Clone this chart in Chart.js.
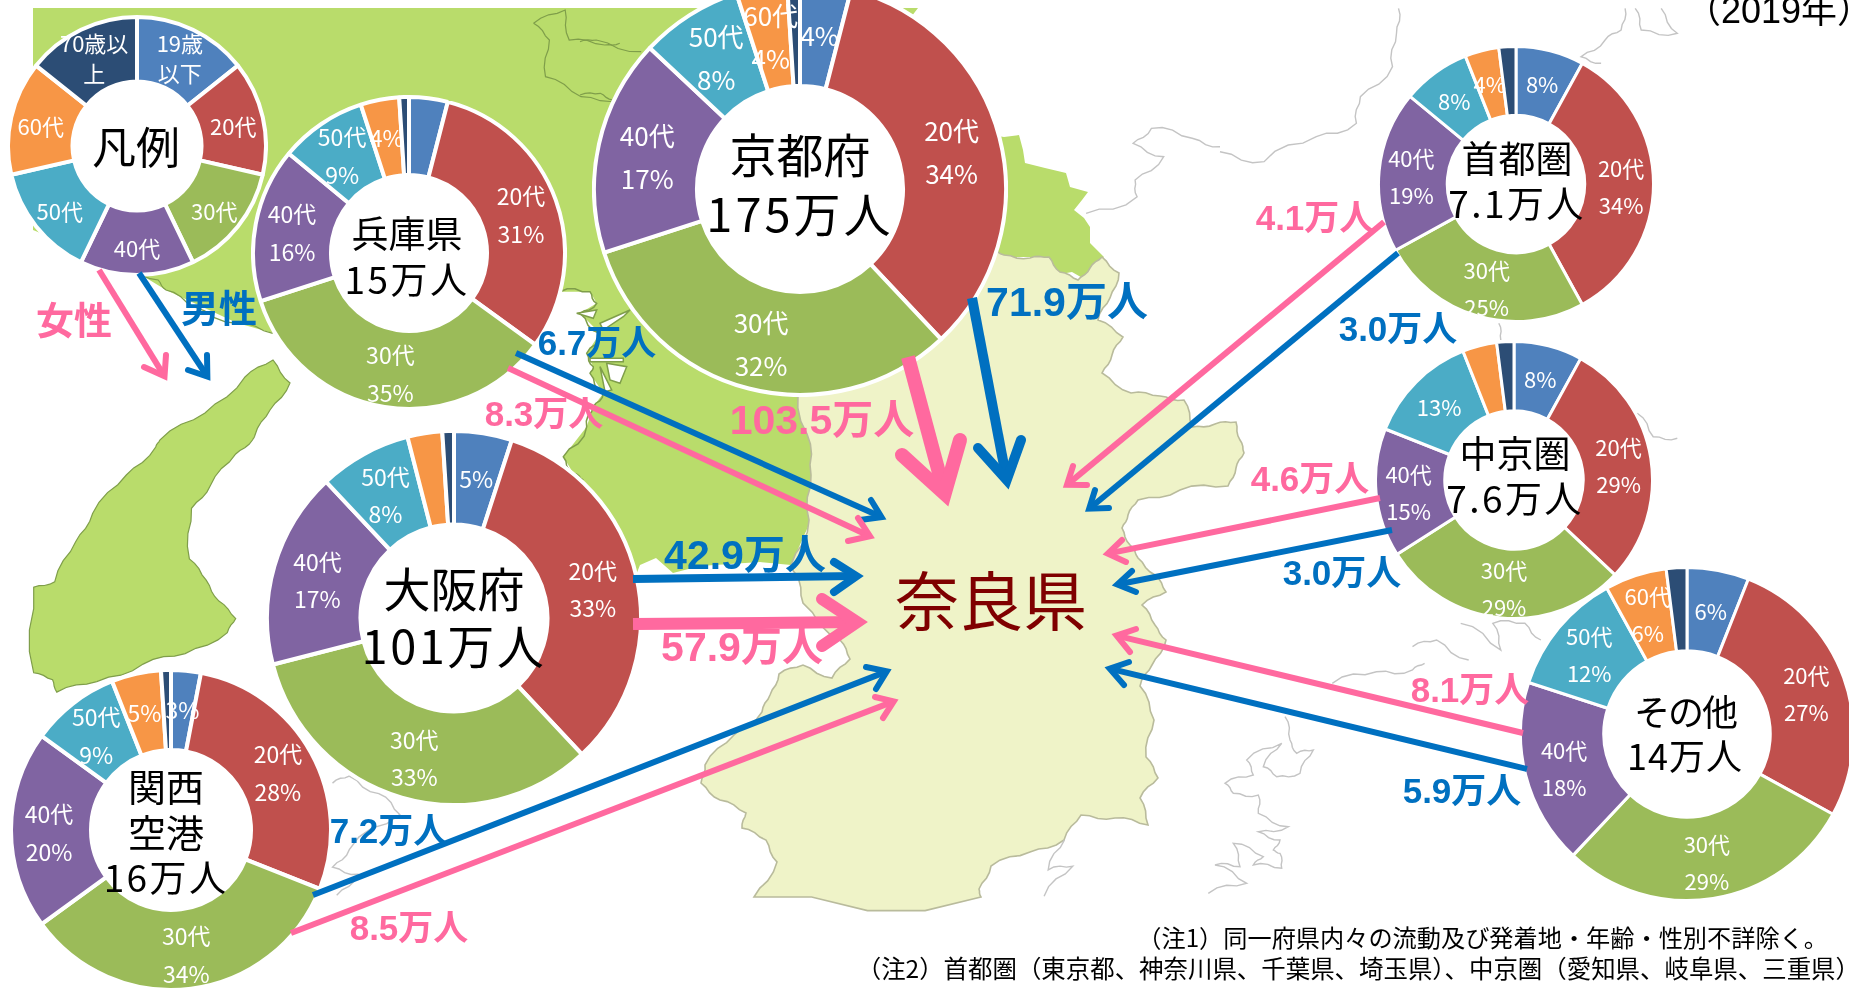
<!DOCTYPE html>
<html lang="ja"><head><meta charset="utf-8">
<style>
html,body{margin:0;padding:0;background:#fff;width:1849px;height:989px;overflow:hidden;position:relative}
canvas.d{position:absolute;display:block}
svg{position:absolute;left:0;top:0}
.t{position:absolute;white-space:nowrap;transform:translate(-50%,-50%);line-height:1;font-family:"Liberation Sans","Noto Sans CJK JP",sans-serif}
.c{font-family:"Noto Sans CJK JP",sans-serif;color:#000;font-weight:400}
.f{font-weight:700}
</style>
<script src="https://cdn.jsdelivr.net/npm/chart.js@4/dist/chart.umd.min.js"></script>
</head><body>
<script>
// ---- data ----
const categories = ['19歳以下','20代','30代','40代','50代','60代','70歳以上'];
const colors = ['#4F81BD','#C0504D','#9BBB59','#8064A2','#4BACC6','#F79646','#2C4D75'];
const legendValues   = [1,1,1,1,1,1,1];
const hyogoValues    = [4,31,35,16,9,4,1];
const kyotoValues    = [4,34,32,17,8,4,1];
const osakaValues    = [5,33,33,17,8,3,1];
const kansaiValues   = [3,28,34,20,9,5,1];
const shutokenValues = [8,34,25,19,8,4,2];
const chukyoValues   = [8,29,29,15,13,4,2];
const otherValues    = [6,27,29,18,12,6,2];

const legendLabels   = ['19歳\n以下','20代','30代','40代','50代','60代','70歳以\n上'];
const hyogoLabels    = ['','20代\n31%','30代\n35%','40代\n16%','50代\n9%','4%',''];
const kyotoLabels    = ['4%','20代\n34%','30代\n32%','40代\n17%','50代\n8%','60代\n4%',''];
const osakaLabels    = ['5%','20代\n33%','30代\n33%','40代\n17%','50代\n8%','',''];
const kansaiLabels   = ['3%','20代\n28%','30代\n34%','40代\n20%','50代\n9%','5%',''];
const shutokenLabels = ['8%','20代\n34%','30代\n25%','40代\n19%','8%','4%',''];
const chukyoLabels   = ['8%','20代\n29%','30代\n29%','40代\n15%','13%','',''];
const otherLabels    = ['6%','20代\n27%','30代\n29%','40代\n18%','50代\n12%','60代\n6%',''];

const flowLabels = ['71.9万人','103.5万人','6.7万人','8.3万人','42.9万人','57.9万人','7.2万人','8.5万人','4.1万人','3.0万人','4.6万人','3.0万人','8.1万人','5.9万人'];

// ---- layout ----
const donuts = [
 {v:legendValues,  l:legendLabels,  x:137, y:146, r:131, fs:22, lh:30, b:4},
 {v:hyogoValues,   l:hyogoLabels,   x:409, y:253, r:158, fs:23, lh:38, b:4},
 {v:kyotoValues,   l:kyotoLabels,   x:800, y:189, r:208, fs:26, lh:43, b:4},
 {v:osakaValues,   l:osakaLabels,   x:454, y:618, r:189, fs:23, lh:37, b:4},
 {v:kansaiValues,  l:kansaiLabels,  x:171, y:830, r:162, fs:23, lh:38, b:4},
 {v:shutokenValues,l:shutokenLabels,x:1516,y:184, r:139, fs:22, lh:37, b:3},
 {v:chukyoValues,  l:chukyoLabels,  x:1514,y:480, r:140, fs:22, lh:37, b:3},
 {v:otherValues,   l:otherLabels,   x:1687,y:734, r:168, fs:22, lh:37, b:3}
];
// text, x, y, size, letter spacing
const centerTexts = [
 ['凡例',136,145,44,0],['兵庫県',407,232,37,0],['15万人',407,278,37,2.5],
 ['京都府',800,152,47,0],['175万人',800,211,47,3],['大阪府',454,586,47,0],['101万人',454,643,47,2.5],
 ['関西',166,785,38,0],['空港',166,831,38,0],['16万人',166,876,37,2.4],
 ['首都圏',1517,157,37,0],['7.1万人',1517,202,37,2.4],['中京圏',1515,452,37,0],['7.6万人',1515,497,37,2.4],
 ['その他',1685,710,36,-2],['14万人',1685,754,36,1]
];
const flowPos = [[1067,302,41,'b'],[822,420,41,'p'],[597,342,35,'b'],[544,413,35,'p'],[745,555,41,'b'],[742,647,41,'p'],[389,830,35,'b'],[409,927,35,'p'],[1315,217,35,'p'],[1398,328,35,'b'],[1310,478,35,'p'],[1342,572,35,'b'],[1470,689,35,'p'],[1462,790,35,'b']];
const PINK='#FF699F', BLUE='#0070C0';
// arrows: colour, width, start, tip, barb, barb
const arrows = [
 [PINK,6,99,270,168,382,144,367,166,355],[BLUE,6,139,273,211,382,188,370,207,355],
 [PINK,14,908,357,949,510,902,455,960,440],[BLUE,10,972,298,1009,492,978,448,1021,440],
 [BLUE,6,516,353,888,520,871,500,860,520],[PINK,6,508,368,876,539,858,518,848,541],
 [BLUE,8,633,579,866,576,834,562,834,592],[PINK,12,633,624,871,622,822,599,822,646],
 [BLUE,6,313,895,893,669,866,667,876,689],[PINK,6,291,933,900,699,875,697,883,718],
 [PINK,6,1384,222,1062,489,1073,466,1087,485],[BLUE,6,1398,253,1084,513,1095,490,1109,508],
 [PINK,6,1380,498,1101,555,1122,540,1126,562],[BLUE,6,1392,530,1110,586,1132,571,1136,592],
 [PINK,6,1523,733,1110,634,1136,629,1130,652],[BLUE,6,1527,769,1103,667,1129,662,1124,685]
];

// ---- background map (decoration) ----
const z=(ox,oy,sx,sy,a)=>{const o=[];for(let i=0;i<a.length;i+=2)o.push([ox+a[i]/sx,oy+a[i+1]/sy]);return o;};
const toP=p=>p.map(q=>q[0].toFixed(1)+','+q[1].toFixed(1)).join(' ');
// break straight outline segments into a small coast-like zigzag
function rough(p,closed,amp){
  let pts=p.slice();if(closed)pts=pts.concat([p[0]]);
  for(let it=0;it<2;it++){
    const o=[];
    for(let i=0;i<pts.length-1;i++){
      const a=pts[i],b=pts[i+1],dx=b[0]-a[0],dy=b[1]-a[1],s=(i%2?1:-1)*amp;
      o.push(a,[(a[0]+b[0])/2-dy*s,(a[1]+b[1])/2+dx*s]);
    }
    o.push(pts[pts.length-1]);pts=o;
  }
  return pts;
}
const greenPoly=[[33,8],[918,8],[905,25],[960,130],[1004,137],[1019,135],[1023,150],[1025,163],[1045,168],[1066,173],[1070,187],[1088,192],[1082,200],[1074,210],[1084,218],[1090,227],[1090,243],[1104,257],[1086,280],[1072,272],[1055,275],[1045,257],[1004,257],[900,500],[811,520],[791,565],[760,562],[700,566],[673,573],[656,558],[640,565],[610,640],[564,480],[564,440],[540,400],[273,333],[237,323],[166,290],[138,273],[33,230]];
const naraPoly=[[795,380],[900,300],[990,250],[1004,255],[1030,258],[1049,257],[1060,272],[1078,280],[1090,268],[1102,257],[1119,273],[1110,298],[1098,320],[1123,337],[1112,355],[1102,373],[1131,393],[1160,396],[1184,400],[1192,427],[1215,424],[1236,422],[1240,440],[1244,453],[1236,468],[1228,486],[1180,490],[1138,500],[1128,515],[1122,528],[1130,545],[1138,558],[1155,575],[1166,592],[1142,605],[1155,625],[1166,640],[1152,665],[1140,686],[1154,720],[1146,757],[1158,778],[1140,798],[1148,825],[1115,818],[1081,815],[1064,840],[1030,852],[991,866],[979,889],[981,897],[754,897],[777,862],[766,840],[742,828],[746,813],[720,800],[701,783],[705,765],[734,735],[762,712],[770,695],[779,674],[803,665],[832,678],[850,659],[840,640],[803,603],[795,573],[791,565],[809,520],[811,475],[807,434]];
const islandPoly=z(0,440,2.376,2.856,[600,0,560,40,500,130,455,195,450,340,490,400,520,460,560,510,540,550,440,610,340,640,230,690,135,720,125,685,80,665,80,420,130,405,180,290,220,210,300,100,370,20,380,0]).concat([[160,440],[205,413],[245,377],[273,360],[290,383],[270,410],[255,435]]);
const bayPoly=z(540,260,3,3,[60,95,150,95,170,130,120,160,180,220,140,280,160,320,150,340,190,400,160,440,140,500,70,590,100,640,130,660,0,660,0,200]);
const bayWest=[[490,340],[545,300],[545,480],[470,450]];
const bayEdge=bayPoly.slice(0,14);
const bayStrips=[z(540,260,3,3,[110,160,170,150,160,175]),z(540,260,3,3,[200,310,260,320,240,370,210,360]),z(540,260,3,3,[180,320,215,390,195,395]),z(540,260,3,3,[150,295,250,295,250,305,150,305]),z(540,260,3,3,[180,190,270,150,250,170,190,210])];
const greenLines=[z(0,0,2.53,3,[1350,70,1430,30,1440,120,1530,135,1568,130]),z(0,0,2.53,3,[1350,70,1390,120,1380,230,1470,290,1568,300]),z(580,0,2.45,3,[0,125,40,120,150,155]),z(580,0,2.45,3,[0,285,50,280,80,300]),
 z(0,0,2.53,3,[320,825,400,840,420,870,490,920,600,970,690,1000])];
const grayLines=[
 z(1100,680,3,3,[555,110,570,180,590,220,640,210,600,280,530,290,490,260,545,190,440,240,460,285,375,310,400,340,475,345,475,400,565,440,475,455,540,480,520,510,540,520,545,565,460,555,490,530,400,490,420,560,345,555,440,610,325,640]),
 z(1220,0,2.493,3,[445,25,440,100,430,200,350,290,340,370,240,410,110,485,0,455]),
 z(580,0,2.45,3,[1568,440,1500,415,1400,385,1355,430,1430,470,1360,540,1365,590,1240,640]),
 z(1220,0,2.493,3,[1010,25,1000,90,960,120,900,170,950,190]),z(1220,0,2.493,3,[1035,25,1050,90,1140,100,1100,25]),
 z(0,440,2.376,2.856,[790,980,830,960,900,1010,950,1070,830,1170,790,1220,850,1240,800,1300]),
 z(640,400,2.45,2.66,[990,1320,1060,1240,1000,1250,1040,1170]),
 z(1220,480,2.493,3,[600,430,700,510,680,430,760,430,800,480]),z(1220,480,2.493,3,[480,500,540,480,620,540]),z(1220,480,2.493,3,[280,610,390,575,480,570,510,550]),
 z(1220,0,2.493,3,[1040,1240,1080,1310,1140,1315]),z(1220,0,2.493,3,[695,970,700,1020])
];
function svgEl(tag,attrs,parent){const e=document.createElementNS('http://www.w3.org/2000/svg',tag);for(const k in attrs)e.setAttribute(k,attrs[k]);parent.appendChild(e);return e;}
function newSvg(){return svgEl('svg',{width:1849,height:989,viewBox:'0 0 1849 989'},document.body);}
const mapSvg=newSvg();
svgEl('polygon',{points:toP(greenPoly),fill:'#B9DC6B'},mapSvg);
svgEl('polygon',{points:toP(bayPoly),fill:'#fff'},mapSvg);
svgEl('polygon',{points:toP(bayWest),fill:'#fff'},mapSvg);
svgEl('polyline',{points:toP(rough(bayEdge,false,0.1)),fill:'none',stroke:'#7f9e4a','stroke-width':1.5},mapSvg);
bayStrips.forEach(p=>svgEl('polygon',{points:toP(p),fill:'#fff',stroke:'#7f9e4a','stroke-width':1.5},mapSvg));
greenLines.forEach(p=>svgEl('polyline',{points:toP(rough(p,false,0.06)),fill:'none',stroke:'#7f9e4a','stroke-width':1.2},mapSvg));
svgEl('polygon',{points:toP(rough(naraPoly,true,0.06)),fill:'#EFF3C8',stroke:'#b9bb9c','stroke-width':1.6},mapSvg);
svgEl('polygon',{points:toP(rough(islandPoly,true,0.05)),fill:'#B9DC6B',stroke:'#7f9e4a','stroke-width':1.2},mapSvg);
grayLines.forEach(p=>svgEl('polyline',{points:toP(rough(p,false,0.08)),fill:'none',stroke:'#c4c4c4','stroke-width':1.4},mapSvg));

// ---- doughnuts ----
const holeFill={id:'holeFill',beforeDatasetsDraw(chart){
  const a=chart.getDatasetMeta(0).data[0],ctx=chart.ctx;
  ctx.save();ctx.fillStyle='#fff';ctx.beginPath();ctx.arc(a.x,a.y,a.innerRadius+1,0,Math.PI*2);ctx.fill();ctx.restore();
}};
const sliceText={id:'sliceText',afterDatasetsDraw(chart,args,opts){
  const ctx=chart.ctx,meta=chart.getDatasetMeta(0);
  ctx.save();ctx.fillStyle='#fff';ctx.textAlign='center';ctx.textBaseline='middle';
  ctx.font=opts.size+'px "Noto Sans CJK JP",sans-serif';
  meta.data.forEach((arc,i)=>{
    const s=opts.text[i];if(!s)return;
    const p=arc.tooltipPosition(),ls=s.split('\n');
    const mid=(arc.innerRadius+arc.outerRadius)/2;
    const ox=(p.x-arc.x)/mid*2, oy=3+(p.y-arc.y)/mid*3;
    ls.forEach((t,k)=>ctx.fillText(t,p.x+ox,p.y+oy+(k-(ls.length-1)/2)*opts.lh));
  });
  ctx.restore();
}};
donuts.forEach(d=>{
  const c=document.createElement('canvas');c.className='d';c.width=2*d.r;c.height=2*d.r;
  c.style.cssText=`left:${d.x-d.r}px;top:${d.y-d.r}px;width:${2*d.r}px;height:${2*d.r}px`;
  document.body.appendChild(c);
  new Chart(c,{type:'doughnut',plugins:[holeFill,sliceText],
    data:{labels:categories,datasets:[{data:d.v,backgroundColor:colors,borderColor:'#fff',borderWidth:d.b,borderAlign:'center'}]},
    options:{responsive:false,animation:false,cutout:'50%',layout:{padding:0},
      plugins:{legend:{display:false},tooltip:{enabled:false},sliceText:{text:d.l,size:d.fs,lh:d.lh}}}});
});

// ---- arrows ----
const arrSvg=newSvg();
arrows.forEach(a=>{
  const [col,w,x0,y0,tx,ty,b1x,b1y,b2x,b2y]=a;
  const L=Math.hypot(tx-x0,ty-y0),ux=(tx-x0)/L,uy=(ty-y0)/L;
  const u1=Math.hypot(b1x-tx,b1y-ty),u2=Math.hypot(b2x-tx,b2y-ty);
  const ang=Math.acos(((b1x-tx)*(b2x-tx)+(b1y-ty)*(b2y-ty))/(u1*u2))/2;
  const back=(w/2)/Math.sin(ang);
  const vx=tx-ux*back,vy=ty-uy*back;
  svgEl('line',{x1:x0,y1:y0,x2:vx,y2:vy,stroke:col,'stroke-width':w},arrSvg);
  svgEl('polyline',{points:`${b1x},${b1y} ${vx},${vy} ${b2x},${b2y}`,fill:'none',stroke:col,'stroke-width':w,'stroke-linejoin':'miter','stroke-miterlimit':20,'stroke-linecap':'round'},arrSvg);
});

// ---- text ----
function addText(s,x,y,size,cls,color,ls){const e=document.createElement('div');e.className='t '+cls;e.textContent=s;e.style.left=x+'px';e.style.top=y+'px';e.style.fontSize=size+'px';if(color)e.style.color=color;if(ls)e.style.letterSpacing=ls+'px';document.body.appendChild(e);return e;}
centerTexts.forEach(t=>addText(t[0],t[1],t[2],t[3],'c',null,t[4]));
flowLabels.forEach((s,i)=>{const p=flowPos[i];addText(s,p[0],p[1],p[2],'f',p[3]==='b'?BLUE:PINK);});
addText('女性',74,321,38,'f',PINK);
addText('男性',219,309,38,'f',BLUE);
addText('奈良県',991,597,64,'c','#7F0000');
const y=addText('（2019年）',1685,11,36,'');y.style.transform='translate(0,-50%)';
const n1=addText('（注1）同一府県内々の流動及び発着地・年齢・性別不詳除く。',1828,937,24.2,'c');n1.style.transform='translate(-100%,-50%)';
const n2=addText('（注2）首都圏（東京都、神奈川県、千葉県、埼玉県）、中京圏（愛知県、岐阜県、三重県）',1860,968,24.45,'c');n2.style.transform='translate(-100%,-50%)';
</script>
</body></html>
